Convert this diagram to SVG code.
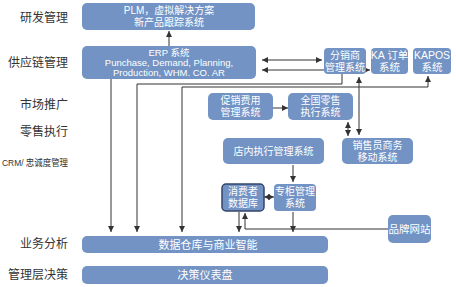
<svg xmlns="http://www.w3.org/2000/svg" width="456" height="287" viewBox="0 0 456 287">
<defs>
<style>
.box{fill:#7293c4;}
.bt{fill:#ffffff;font-family:"Liberation Sans","Noto Sans CJK SC",sans-serif;font-size:10px;text-anchor:middle;}
.lbl{fill:#333333;font-family:"Liberation Sans","Noto Sans CJK SC",sans-serif;font-size:12px;text-anchor:end;}
.ln{stroke:#333333;stroke-width:1;fill:none;}
</style>
<marker id="ah" viewBox="0 0 6 6" refX="6" refY="3" markerWidth="6" markerHeight="6" orient="auto-start-reverse" markerUnits="userSpaceOnUse">
<path d="M0,0 L6,3 L0,6 Z" fill="#333333"/>
</marker>
</defs>
<rect width="456" height="287" fill="#ffffff"/>

<g id="labels">
<text class="lbl" x="68" y="22">研发管理</text>
<text class="lbl" x="68" y="67">供应链管理</text>
<text class="lbl" x="68" y="109">市场推广</text>
<text class="lbl" x="68" y="136">零售执行</text>
<text class="lbl" x="2" y="166" style="font-size:9.5px;text-anchor:start" textLength="66" lengthAdjust="spacingAndGlyphs">CRM/ 忠诚度管理</text>
<text class="lbl" x="68" y="248">业务分析</text>
<text class="lbl" x="68" y="279">管理层决策</text>
</g>

<g id="connectors">
<line class="ln" x1="169" y1="46" x2="169" y2="31" marker-end="url(#ah)"/>
<line class="ln" x1="262" y1="60" x2="322" y2="60" marker-start="url(#ah)" marker-end="url(#ah)"/>
<line class="ln" x1="262" y1="70" x2="370" y2="70" marker-start="url(#ah)" marker-end="url(#ah)"/>
<line class="ln" x1="111" y1="79" x2="111" y2="232" marker-end="url(#ah)"/>
<polyline class="ln" points="342,74 342,84 137,84 137,232" marker-end="url(#ah)"/>
<polyline class="ln" points="182,232 182,87 428,87 428,76" marker-start="url(#ah)" marker-end="url(#ah)"/>
<line class="ln" x1="359" y1="77" x2="359" y2="135" marker-start="url(#ah)" marker-end="url(#ah)"/>
<line class="ln" x1="273" y1="108" x2="288" y2="108" marker-end="url(#ah)"/>
<line class="ln" x1="348" y1="122" x2="348" y2="136" marker-start="url(#ah)" marker-end="url(#ah)"/>
<line class="ln" x1="293" y1="165" x2="293" y2="182" marker-end="url(#ah)"/>
<line class="ln" x1="264" y1="197" x2="274" y2="197" marker-start="url(#ah)" marker-end="url(#ah)"/>
<line class="ln" x1="239" y1="212" x2="239" y2="232" marker-end="url(#ah)"/>
<polyline class="ln" points="388,229 245,229 245,213" marker-end="url(#ah)"/>
<line class="ln" x1="293" y1="212" x2="293" y2="232" marker-end="url(#ah)"/>
</g>

<g id="plm">
<rect class="box" x="82" y="3" width="173" height="27" rx="5"/>
<text class="bt" x="169" y="14">PLM，虚拟解决方案</text>
<text class="bt" x="169" y="26">新产品跟踪系统</text>
</g>
<g id="erp">
<rect class="box" x="82" y="46" width="174" height="33" rx="5"/>
<text class="bt" x="169" y="56" style="font-size:9.5px">ERP 系统</text>
<text class="bt" x="169" y="66" style="font-size:9.5px">Punchase, Demand, Planning,</text>
<text class="bt" x="169" y="76" style="font-size:9.5px">Production, WHM. CO. AR</text>
</g>
<g id="fenxiao">
<rect class="box" x="324" y="48" width="42" height="26" rx="4"/>
<text class="bt" x="345" y="59">分销商</text>
<text class="bt" x="345" y="71">管理系统</text>
</g>
<g id="ka">
<rect class="box" x="371" y="48" width="37" height="26" rx="4"/>
<text class="bt" x="389.5" y="59" style="font-size:10.5px">KA 订单</text>
<text class="bt" x="389.5" y="71" style="font-size:10.5px">系统</text>
</g>
<g id="kapos">
<rect class="box" x="413" y="48" width="38" height="26" rx="4"/>
<text class="bt" x="432" y="59" style="font-size:10.5px">KAPOS</text>
<text class="bt" x="432" y="71" style="font-size:10.5px">系统</text>
</g>
<g id="cuxiao">
<rect class="box" x="208" y="93" width="65" height="27" rx="5"/>
<text class="bt" x="240.5" y="104">促销费用</text>
<text class="bt" x="240.5" y="116">管理系统</text>
</g>
<g id="quanguo">
<rect class="box" x="288" y="93" width="65" height="27" rx="5"/>
<text class="bt" x="320.5" y="104">全国零售</text>
<text class="bt" x="320.5" y="116">执行系统</text>
</g>
<g id="diannei">
<rect class="box" x="223" y="138" width="101" height="26" rx="5"/>
<text class="bt" x="273.5" y="155">店内执行管理系统</text>
</g>
<g id="xiaoshouyuan">
<rect class="box" x="342" y="138" width="71" height="26" rx="5"/>
<text class="bt" x="377.5" y="149">销售员商务</text>
<text class="bt" x="377.5" y="161">移动系统</text>
</g>
<g id="xiaofeizhe">
<rect class="box" x="222" y="184" width="42" height="27" rx="4" stroke="#34456a" stroke-width="1.5"/>
<text class="bt" x="243" y="195">消费者</text>
<text class="bt" x="243" y="207">数据库</text>
</g>
<g id="zhuangui">
<rect class="box" x="274" y="184" width="42" height="27" rx="4"/>
<text class="bt" x="295" y="195">专柜管理</text>
<text class="bt" x="295" y="207">系统</text>
</g>
<g id="pinpai">
<rect class="box" x="388" y="215" width="43" height="28" rx="5"/>
<text class="bt" x="409.5" y="233" style="font-size:10.5px">品牌网站</text>
</g>
<g id="shujucangku">
<rect class="box" x="82" y="236" width="246" height="17" rx="5"/>
<text class="bt" x="208" y="248.5" style="font-size:11px">数据仓库与商业智能</text>
</g>
<g id="juece">
<rect class="box" x="82" y="266" width="246" height="18" rx="5"/>
<text class="bt" x="205" y="279" style="font-size:11px">决策仪表盘</text>
</g>
</svg>
